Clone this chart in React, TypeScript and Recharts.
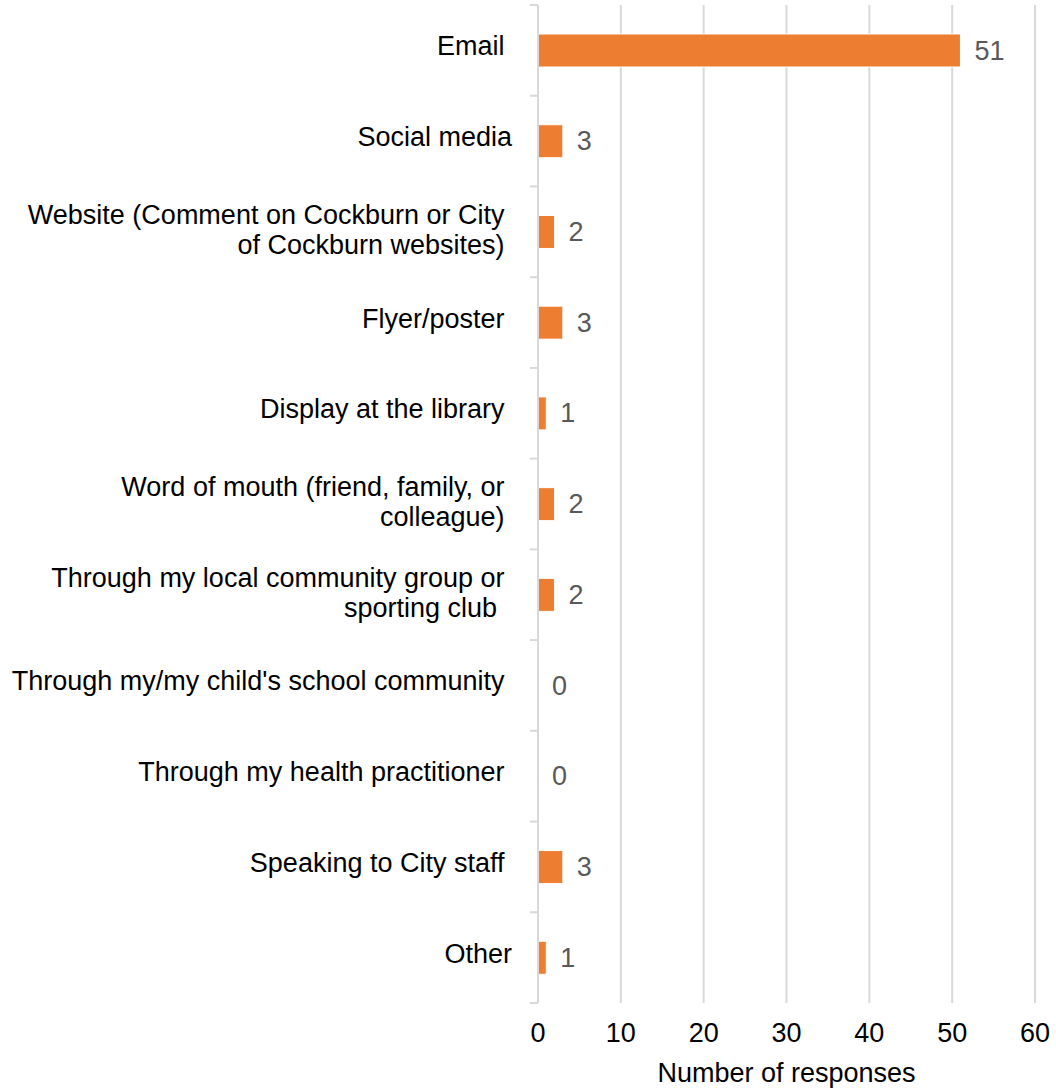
import { BarChart, Bar, XAxis, YAxis, CartesianGrid, LabelList, Label } from 'recharts'

const categories = [
  'Email ',
  'Social media',
  'Website (Comment on Cockburn or City \nof Cockburn websites) ',
  'Flyer/poster ',
  'Display at the library ',
  'Word of mouth (friend, family, or \ncolleague) ',
  'Through my local community group or \nsporting club  ',
  "Through my/my child's school community ",
  'Through my health practitioner ',
  'Speaking to City staff ',
  'Other',
]
const responses = [51, 3, 2, 3, 1, 2, 2, 0, 0, 3, 1]
const xTicks = [0, 10, 20, 30, 40, 50, 60]

const data = categories.map((name, i) => ({ name, value: responses[i] }))

const W = 1056
const H = 1089
const TOP = 5
const AXIS_W = 538
const X_AXIS_H = 86
const BAND = (H - TOP - X_AXIS_H) / categories.length
const FONT = '"Liberation Sans", Arial, sans-serif'

const CategoryTick = ({ y, payload, index }: any) => {
  const lines = String(payload.value).split('\n')
  const lh = 30
  const y0 = y - ((lines.length - 1) * lh) / 2 - (lines.length === 1 ? 4 : 2)
  return (
    <g>
      <line x1={AXIS_W - 8} x2={AXIS_W} y1={y - BAND / 2} y2={y - BAND / 2} stroke="#d9d9d9" strokeWidth={2} />
      {index === categories.length - 1 && (
        <line x1={AXIS_W - 8} x2={AXIS_W} y1={y + BAND / 2} y2={y + BAND / 2} stroke="#d9d9d9" strokeWidth={2} />
      )}
      <text y={y0} textAnchor="end" dominantBaseline="central" fill="#000" fontSize={27} style={{ whiteSpace: 'pre' }}>
        {lines.map((l, i) => (
          <tspan key={i} x={512} dy={i === 0 ? 0 : lh}>{l}</tspan>
        ))}
      </text>
    </g>
  )
}

// value label drawn from the bar's own geometry, also for zero values
const ValueLabel = ({ x, y, width, height, value }: any) => (
  <text x={x + width + 14} y={y + height / 2} dominantBaseline="central" fill="#595959" fontSize={27}>
    {value}
  </text>
)

export default function App() {
  return (
    <div style={{ position: 'absolute', left: 0, top: 0, fontFamily: FONT, background: '#fff' }}>
      <BarChart width={W} height={H} data={data} layout="vertical" barSize={33}
        margin={{ top: TOP, right: 21, bottom: 0, left: 0 }} style={{ fontFamily: FONT }}>
        <CartesianGrid horizontal={false} stroke="#d9d9d9" strokeWidth={2} />
        <XAxis type="number" domain={[0, 60]} ticks={xTicks} height={X_AXIS_H} axisLine={false} tickLine={false}
          tickSize={0} tickMargin={20} tick={{ fill: '#000', fontSize: 27 }}>
          <Label value="Number of responses" position="insideBottom" offset={7} fill="#000" fontSize={27} />
        </XAxis>
        <YAxis type="category" dataKey="name" width={AXIS_W} interval={0} axisLine={{ stroke: '#d9d9d9', strokeWidth: 2 }}
          tickLine={false} tick={<CategoryTick />} />
        <Bar dataKey="value" fill="#ed7d31" stroke="#fff" strokeWidth={1} isAnimationActive={false}
          minPointSize={(v: number) => (v === 0 ? 0.01 : 0)}>
          <LabelList dataKey="value" content={<ValueLabel />} />
        </Bar>
      </BarChart>
    </div>
  )
}
